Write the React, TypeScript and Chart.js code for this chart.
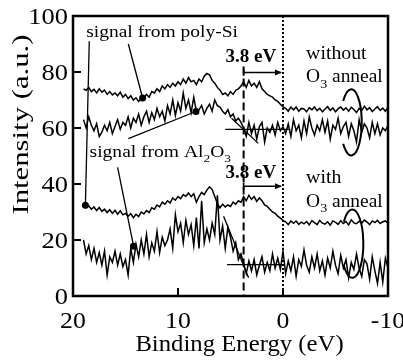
import React, { useEffect, useRef } from "react";
import { Chart, registerables } from "chart.js";
Chart.register(...registerables);

// Binding energy grid (eV)
const energies = [
  19, 18.75, 18.5, 18.25, 18, 17.75, 17.5, 17.25, 17, 16.75, 16.5, 16.25,
  16, 15.75, 15.5, 15.25, 15, 14.75, 14.5, 14.25, 14, 13.75, 13.5, 13.25,
  13, 12.75, 12.5, 12.25, 12, 11.75, 11.5, 11.25, 11, 10.75, 10.5, 10.25,
  10, 9.75, 9.5, 9.25, 9, 8.75, 8.5, 8.25, 8, 7.75, 7.5, 7.25,
  7, 6.75, 6.5, 6.25, 6, 5.75, 5.5, 5.25, 5, 4.75, 4.5, 4.25,
  4, 3.75, 3.5, 3.25, 3, 2.75, 2.5, 2.25, 2, 1.75, 1.5, 1.25,
  1, 0.75, 0.5, 0.25, 0, -0.25, -0.5, -0.75, -1, -1.25, -1.5, -1.75,
  -2, -2.25, -2.5, -2.75, -3, -3.25, -3.5, -3.75, -4, -4.25, -4.5, -4.75,
  -5, -5.25, -5.5, -5.75, -6, -6.25, -6.5, -6.75, -7, -7.25, -7.5, -7.75,
  -8, -8.25, -8.5, -8.75, -9, -9.25, -9.5, -9.75, -10,
];

// without O3 anneal, signal from poly-Si
const withoutPolySi = [
  74, 73.5, 74.5, 73, 73.8, 72.5, 74, 72.8, 73.5, 72, 73, 71.8,
  72.5, 71.5, 72.8, 71, 72, 70.5, 71.5, 70, 70.8, 69.5, 70.5, 71,
  72, 71, 73, 72.5, 74, 73, 75, 74, 75.5, 74.5, 76, 75,
  76.5, 75.5, 77.5, 76, 78, 76.5, 77, 75.5, 77.5, 76.5, 78.5, 79.5,
  79, 77, 76, 74.5, 73.5, 72, 72.5, 71.5, 73, 72, 73.5, 74,
  75, 76.5, 74.5, 77, 75, 76, 74.5, 76.5, 74, 73, 72, 71.5,
  71, 70, 69.5, 68.5, 67.5, 67, 66, 67.5, 66.5, 67.5, 66, 67,
  66.8, 65.8, 67.3, 66.5, 67.5, 66.2, 67, 65.8, 66.8, 67.6, 66.3, 67.2,
  65.8, 66.9, 67.5, 66.4, 67.2, 66, 67.4, 66.6, 65.5, 67, 66.2, 67.8,
  66.5, 67.3, 65.9, 66.8, 67.6, 66.3, 67.1, 66, 67.4,
];

// without O3 anneal, signal from Al2O3
const withoutAl2O3 = [
  63, 60, 64, 61, 59, 61.5, 57, 58.5, 61, 59, 62, 58,
  60.5, 63, 59.5, 62, 61, 64, 60, 63.5, 62, 65, 61, 64,
  66, 62, 65.5, 63, 67, 64, 66, 62.5, 68, 65, 70, 64.5,
  69, 66, 72.5, 67, 70, 65.5, 71, 66, 66.5, 68, 65, 67,
  68.5, 66, 70, 68, 67.5, 66, 65, 66.5, 64, 65, 62.5, 63.5,
  62, 60, 57, 62, 58, 61, 56, 60.5, 62, 55, 60, 58.5,
  61, 57.5, 62, 59, 60.5, 58, 61.5, 57, 63, 59, 61, 56.5,
  62.5, 58, 64, 60, 57.5, 61, 59, 63, 58.5, 62.5, 56, 61,
  59.5, 63.5, 58, 60.5, 62, 57, 61.5, 59, 55, 63, 58.5, 61.5,
  60, 56.5, 62, 58, 61.5, 57.5, 60, 59, 61,
];

// with O3 anneal, signal from poly-Si
const withPolySi = [
  32.5, 31.5, 32.2, 31, 31.8, 30.5, 31.6, 30.2, 31, 29.8, 30.8, 29.5,
  30.6, 29.2, 30.4, 29, 29.5, 28.5, 29.4, 28, 29.2, 28.4, 30, 29.3,
  30.5, 29.8, 31.5, 31, 32.5, 31.8, 33.5, 32.8, 34, 33.2, 35, 34.2,
  35.5, 34.8, 36.2, 35.6, 36.8, 35.5, 36.5, 33.5, 35.5, 37, 36.2, 37.8,
  39, 38, 35.5, 33, 31.5, 32.8, 31.8, 32.5, 32, 33.5, 32.8, 34,
  33.5, 35.5, 34, 36, 34.5, 35.5, 33.8, 35, 34, 32.5, 32, 31,
  30, 29.5, 28.5, 27.8, 27, 26.5, 25.5, 26.8, 26, 26.8, 25.6, 26.4,
  25.8, 26.6, 25.4, 26.9, 26.2, 25.5, 27, 26, 25.7, 26.5, 25.3, 26.8,
  26.3, 25.6, 26.9, 25.9, 26.6, 25.4, 27.2, 26.1, 25.8, 26.7, 26, 27.1,
  26.4, 25.5, 26.8, 26.2, 27, 25.9, 26.5, 26.8, 26,
];

// with O3 anneal, signal from Al2O3
const withAl2O3 = [
  20, 15, 18, 13, 17, 12, 15.5, 11, 16, 7.5, 14, 12,
  16, 11, 15, 10.5, 13, 7.5, 17, 12, 18.5, 14, 20, 15,
  22, 14, 19, 16, 23, 15.5, 21, 18, 20, 24, 17, 29,
  23, 26, 19, 27, 22, 25.5, 18, 28, 17, 34, 19, 24,
  20, 26, 22, 36, 20, 25, 17, 24.5, 21, 16, 19, 13,
  15, 11.5, 8, 12.5, 9, 13, 7.5, 11, 14, 8.5, 12, 9,
  15, 10, 13.5, 9.5, 16, 8, 12.5, 9, 14, 7, 13, 10.5,
  16.5, 11, 8.5, 14, 10, 15, 9, 12.5, 7.5, 13.5, 10, 16,
  11, 8, 14.5, 10, 13, 6.5, 12, 9.5, 15, 10, 7, 13,
  11.5, 6, 14, 9, 4.5, 12, 5, 13.5, 10,
];

const xTicks = [20, 10, 0, -10];
const yTicks = [0, 20, 40, 60, 80, 100];
const xTickLabels = ["20", "10", "0", "-10"];
const yTickLabels = ["0", "20", "40", "60", "80", "100"];

const FONT = '"Liberation Serif", "Times New Roman", serif';

type Run = { t: string; sub?: boolean };

function drawRuns(
  ctx: CanvasRenderingContext2D,
  runs: Run[],
  x: number,
  y: number,
  size: number,
  sx: number,
  bold = false,
  align: "left" | "center" | "right" = "left"
) {
  ctx.save();
  const fontFor = (r: Run) =>
    `${bold ? "bold " : ""}${r.sub ? Math.round(size * 0.7) : size}px ${FONT}`;
  let total = 0;
  for (const r of runs) {
    ctx.font = fontFor(r);
    total += ctx.measureText(r.t).width;
  }
  total *= sx;
  let x0 = align === "left" ? x : align === "center" ? x - total / 2 : x - total;
  ctx.translate(x0, y);
  ctx.scale(sx, 1);
  ctx.textAlign = "left";
  ctx.textBaseline = "alphabetic";
  ctx.fillStyle = "#000";
  let cx = 0;
  for (const r of runs) {
    ctx.font = fontFor(r);
    ctx.fillText(r.t, cx, r.sub ? size * 0.3 : 0);
    cx += ctx.measureText(r.t).width;
  }
  ctx.restore();
}

const overlay = {
  id: "overlay",
  afterDatasetsDraw(chart: any) {
    const { ctx, chartArea: a, scales } = chart;
    const X = (v: number) => scales.x.getPixelForValue(v);
    const Y = (v: number) => scales.y.getPixelForValue(v);
    ctx.save();
    ctx.strokeStyle = "#000";
    ctx.fillStyle = "#000";

    // dotted line at 0 eV
    ctx.lineWidth = 2;
    ctx.setLineDash([2, 2]);
    ctx.beginPath();
    ctx.moveTo(X(0), a.top);
    ctx.lineTo(X(0), a.bottom);
    ctx.stroke();
    // dashed line at 3.8 eV
    ctx.setLineDash([8, 4]);
    ctx.beginPath();
    ctx.moveTo(X(3.75), Y(82));
    ctx.lineTo(X(3.75), a.bottom);
    ctx.stroke();
    ctx.setLineDash([]);

    // baseline / extrapolation lines
    ctx.lineWidth = 1.3;
    const seg = (e1: number, v1: number, e2: number, v2: number) => {
      ctx.beginPath();
      ctx.moveTo(X(e1), Y(v1));
      ctx.lineTo(X(e2), Y(v2));
      ctx.stroke();
    };
    seg(5.5, 59.5, -0.7, 59.5);
    seg(4.9, 63.5, 2.35, 54.5);
    seg(5.33, 11.2, 0.1, 11.2);
    seg(5.66, 28.5, 3.28, 6.5);

    // leader lines to curves with dots
    const leader = (e1: number, v1: number, e2: number, v2: number) => {
      seg(e1, v1, e2, v2);
      ctx.beginPath();
      ctx.arc(X(e2), Y(v2), 3.5, 0, Math.PI * 2);
      ctx.fill();
    };
    leader(18.45, 91, 18.82, 32.4);
    leader(14.73, 90, 13.37, 70.7);
    leader(14.73, 56.2, 8.29, 65.9);
    leader(15.75, 45.9, 14.23, 17.8);

    // 3.8 eV arrows
    const arrow = (v: number) => {
      ctx.lineWidth = 1.6;
      seg(3.75, v + 1.2, 3.75, v - 1.2);
      seg(3.75, v, 0.2, v);
      const xe = X(0) - 1;
      const ye = Y(v);
      ctx.beginPath();
      ctx.moveTo(xe, ye);
      ctx.lineTo(xe - 7, ye - 3);
      ctx.lineTo(xe - 7, ye + 3);
      ctx.closePath();
      ctx.fill();
    };
    arrow(79.8);
    arrow(39.2);

    // ellipses
    ctx.lineWidth = 2;
    const ell = (e: number, v: number, de: number, dv: number) => {
      const cx = X(e);
      const cy = Y(v);
      const rx = Math.abs(X(e + de) - cx);
      const ry = Math.abs(Y(v + dv) - cy);
      ctx.beginPath();
      ctx.ellipse(cx, cy, rx, ry, 0, Math.PI + 0.7, 3 * Math.PI - 0.7);
      ctx.stroke();
    };
    ell(-6.5, 62, 1, 11.8);
    ell(-6.6, 18.7, 1.05, 12.2);

    // annotation texts
    drawRuns(ctx, [{ t: "signal from poly-Si" }], X(18.75), Y(92.5), 16, 1.22);
    drawRuns(
      ctx,
      [{ t: "signal from Al" }, { t: "2", sub: true }, { t: "O" }, { t: "3", sub: true }],
      X(18.42),
      Y(49.5),
      16,
      1.22
    );
    drawRuns(ctx, [{ t: "3.8 eV" }], X(5.47), Y(83.4), 19, 1.0, true);
    drawRuns(ctx, [{ t: "3.8 eV" }], X(5.47), Y(42.2), 19, 1.0, true);
    drawRuns(ctx, [{ t: "without" }], X(-2.2), Y(84.6), 18, 1.1);
    drawRuns(ctx, [{ t: "O" }, { t: "3", sub: true }, { t: " anneal" }], X(-2.2), Y(76.3), 18, 1.08);
    drawRuns(ctx, [{ t: "with" }], X(-2.2), Y(40.2), 18, 1.1);
    drawRuns(ctx, [{ t: "O" }, { t: "3", sub: true }, { t: " anneal" }], X(-2.2), Y(31.9), 18, 1.08);

    // frame
    ctx.lineWidth = 2.5;
    ctx.strokeRect(a.left, a.top, a.right - a.left, a.bottom - a.top);

    // inward ticks
    ctx.lineWidth = 2;
    xTicks.forEach((t) => {
      const px = X(t);
      ctx.beginPath();
      ctx.moveTo(px, a.bottom);
      ctx.lineTo(px, a.bottom - 8);
      ctx.stroke();
    });
    yTicks.forEach((t) => {
      const py = Y(t);
      ctx.beginPath();
      ctx.moveTo(a.left, py);
      ctx.lineTo(a.left + 8, py);
      ctx.stroke();
    });

    // tick labels
    xTicks.forEach((t, i) => {
      drawRuns(ctx, [{ t: xTickLabels[i] }], X(t), a.bottom + 32, 23, 1.12, false, "center");
    });
    yTicks.forEach((t, i) => {
      drawRuns(ctx, [{ t: yTickLabels[i] }], a.left - 5, Y(t) + 8, 23, 1.15, false, "right");
    });

    // axis titles
    drawRuns(ctx, [{ t: "Binding Energy (eV)" }], (a.left + a.right) / 2 + 9, 351, 24, 1.03, false, "center");
    ctx.save();
    ctx.translate(28, 124.5);
    ctx.rotate(-Math.PI / 2);
    drawRuns(ctx, [{ t: "Intensity (a.u.)" }], 0, 0, 24, 1.28, false, "center");
    ctx.restore();

    ctx.restore();
  },
};

export default function App() {
  const ref = useRef<HTMLCanvasElement | null>(null);
  useEffect(() => {
    if (!ref.current) return;
    const mk = (vals: number[]) => ({
      data: energies.map((e, i) => ({ x: e, y: vals[i] })),
      borderColor: "#000",
      borderWidth: 1.5,
      pointRadius: 0,
      fill: false,
      tension: 0,
    });
    const chart = new Chart(ref.current, {
      type: "line",
      data: {
        datasets: [mk(withoutPolySi), mk(withoutAl2O3), mk(withPolySi), mk(withAl2O3)],
      },
      options: {
        animation: false,
        responsive: false,
        devicePixelRatio: 1,
        layout: { padding: { left: 73, right: 15, top: 16, bottom: 67 } },
        plugins: { legend: { display: false }, tooltip: { enabled: false } },
        scales: {
          x: { type: "linear", reverse: true, min: -10, max: 20, display: false },
          y: { type: "linear", min: 0, max: 100, display: false },
        },
      },
      plugins: [overlay],
    });
    return () => chart.destroy();
  }, []);
  return (
    <div style={{ position: "fixed", left: 0, top: 0, width: 403, height: 363, background: "#fff" }}>
      <canvas ref={ref} width={403} height={363} style={{ width: 403, height: 363 }} />
    </div>
  );
}
